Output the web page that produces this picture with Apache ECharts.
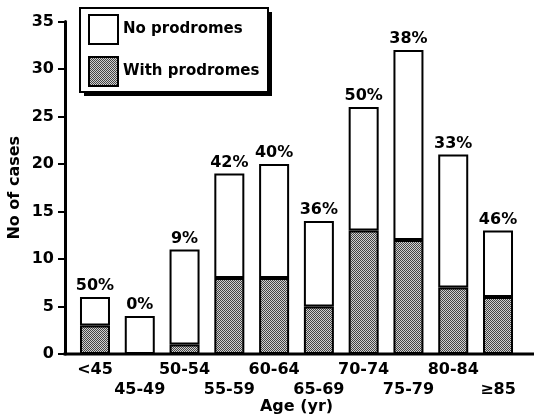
<!DOCTYPE html>
<html>
	<head>
		<meta charset="utf-8" />
		<title></title>
		<style type="text/css">
			html,body{margin:0;padding:0;background:#fff;}
			#main{width:534px;height:418px;}
		</style>
		<script src="https://cdn.jsdelivr.net/npm/echarts@6/dist/echarts.min.js" type="text/javascript" charset="utf-8"></script>
	</head>
	<body>
		<div id="main"></div>
		<script type="text/javascript">
			var categories = ['<45','45-49','50-54','55-59','60-64','65-69','70-74','75-79','80-84','≥85'];
			var withProdromes = [3,0,1,8,8,5,13,12,7,6];
			var noProdromes = [3,4,10,11,12,9,13,20,14,7];
			var pctLabels = ['50%','0%','9%','42%','40%','36%','50%','38%','33%','46%'];
			var yTicks = [0,5,10,15,20,25,30,35];

			var font = 'DejaVu Sans';

			// stippled fill for the "with prodromes" part
			function makeStipple(){
				var c = document.createElement('canvas');
				c.width = 4; c.height = 4;
				var ctx = c.getContext('2d');
				ctx.fillStyle = '#d0d0d0';
				ctx.fillRect(0,0,4,4);
				ctx.fillStyle = '#444';
				for(var y=0;y<4;y++){
					for(var x=0;x<4;x++){
						if((x+y)%2==0) ctx.fillRect(x,y,1,1);
					}
				}
				return {image: c, repeat: 'repeat'};
			}

			var myChart = echarts.init(document.getElementById('main'));
			var option = {
				animation: false,
				textStyle: {fontFamily: font},
				grid: {left: 72.6, right: 13.6, top: 21.5, bottom: 64, containLabel: false, outerBoundsMode: 'none'},
				// legend frame with a hard drop shadow
				graphic: [
					{type: 'rect', z: 0, shape: {x: 84, y: 12, width: 188, height: 84}, style: {fill: '#000'}},
					{type: 'rect', z: 1, shape: {x: 80, y: 8, width: 188, height: 84}, style: {fill: '#fff', stroke: '#000', lineWidth: 2}}
				],
				legend: {
					data: ['No prodromes','With prodromes'],
					orient: 'vertical',
					left: 80, top: 8, z: 5,
					icon: 'rect',
					itemWidth: 29, itemHeight: 29, itemGap: 11,
					padding: [6,10,6,8],
					textStyle: {fontFamily: font, fontSize: 15, fontWeight: 'bold', color: '#000'}
				},
				xAxis: {
					type: 'category',
					data: categories,
					name: 'Age (yr)',
					nameLocation: 'middle',
					nameGap: 53,
					nameMoveOverlap: false,
					nameTextStyle: {fontFamily: font, fontSize: 16, fontWeight: 'bold', color: '#000', verticalAlign: 'middle'},
					axisLine: {show: false},
					axisTick: {show: false},
					axisLabel: {
						interval: 0, margin: 6, color: '#000',
						fontFamily: font, fontSize: 16, fontWeight: 'bold', lineHeight: 20,
						formatter: function(v, i){ return i % 2 ? '\n' + v : v; }
					}
				},
				yAxis: {
					type: 'value',
					min: 0, max: 35, interval: 5,
					offset: 7.6,
					name: 'No of cases',
					nameLocation: 'middle',
					nameGap: 50,
					nameMoveOverlap: false,
					nameTextStyle: {fontFamily: font, fontSize: 16, fontWeight: 'bold', color: '#000', verticalAlign: 'middle'},
					axisLine: {show: true, lineStyle: {color: '#000', width: 3}},
					axisTick: {show: true, length: 7, lineStyle: {color: '#000', width: 2}},
					axisLabel: {margin: 11, color: '#000', fontFamily: font, fontSize: 16, fontWeight: 'bold',
						formatter: function(v){ return yTicks.indexOf(v) >= 0 ? String(v) : ''; }},
					splitLine: {show: false}
				},
				series: [
					{
						name: 'With prodromes',
						type: 'bar',
						stack: 'all',
						barWidth: 30,
						data: withProdromes,
						itemStyle: {color: makeStipple(), borderColor: '#000', borderWidth: 2}
					},
					{
						name: 'No prodromes',
						type: 'bar',
						stack: 'all',
						barWidth: 30,
						data: noProdromes,
						itemStyle: {color: '#fff', borderColor: '#000', borderWidth: 2},
						label: {
							show: true, position: 'top', distance: 3, color: '#000',
							fontFamily: font, fontSize: 16, fontWeight: 'bold',
							formatter: function(p){ return pctLabels[p.dataIndex]; }
						}
					}
				]
			};
			myChart.setOption(option);

			// x axis baseline runs from the y axis to the right edge
			var y0 = myChart.convertToPixel({yAxisIndex: 0}, 0);
			option.graphic.push({
				type: 'line', z: 10,
				shape: {x1: 63.5, y1: y0, x2: 534, y2: y0},
				style: {stroke: '#000', lineWidth: 3}
			});
			myChart.setOption({graphic: option.graphic});
		</script>
	</body>
</html>
